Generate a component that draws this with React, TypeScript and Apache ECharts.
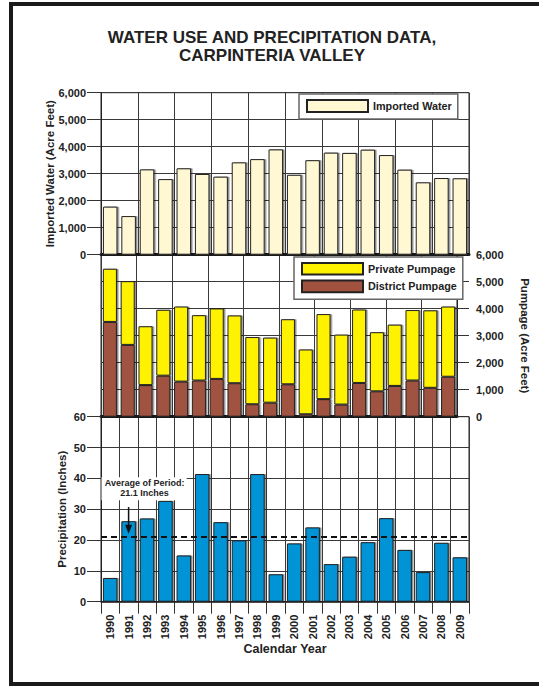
import React, { useEffect, useRef } from 'react';
import * as echarts from 'echarts';

const years = ['1990', '1991', '1992', '1993', '1994', '1995', '1996', '1997', '1998', '1999', '2000', '2001', '2002', '2003', '2004', '2005', '2006', '2007', '2008', '2009'];
const importedWater = [1780, 1430, 3160, 2800, 3200, 2990, 2890, 3420, 3540, 3900, 2960, 3500, 3780, 3770, 3890, 3690, 3150, 2680, 2840, 2830];
const districtPumpage = [3510, 2660, 1170, 1520, 1300, 1340, 1400, 1240, 460, 520, 1200, 90, 650, 450, 1250, 940, 1140, 1340, 1070, 1480];
const privatePumpage = [1970, 2360, 2180, 2440, 2780, 2420, 2610, 2510, 2490, 2410, 2410, 2400, 3150, 2590, 2720, 2190, 2270, 2610, 2870, 2600];
const precipitation = [7.7, 26.1, 27.0, 32.7, 15.0, 41.4, 25.8, 19.9, 41.4, 8.9, 18.9, 24.1, 12.2, 14.6, 19.3, 27.1, 16.8, 9.6, 19.1, 14.4];
const averagePrecip = 21.1;
const averageLabel = ['Average of Period:', '21.1 Inches'];
const annotateYear = '1991';

const FONT = '"Liberation Sans", Arial, Helvetica, sans-serif';
const TXT = '#222';

const fmt = (v: number) => v.toLocaleString('en-US');

export default function App() {
  const ref = useRef<HTMLDivElement>(null);
  useEffect(() => {
    if (!ref.current) return;
    const chart = echarts.init(ref.current, null, { renderer: 'svg' });
    const labelStyle = { color: TXT, fontSize: 11, fontWeight: 'bold' as const, fontFamily: FONT };
    const nameStyle = { color: TXT, fontSize: 11.5, fontWeight: 'bold' as const, fontFamily: FONT };
    const gridLine = { show: true, lineStyle: { color: '#3a3a3a', width: 1 } };
    const barShadow = { shadowColor: 'rgba(0,0,0,0.45)', shadowOffsetX: 1.5, shadowOffsetY: 0, shadowBlur: 0 };
    const legendBase = {
      icon: 'rect',
      itemWidth: 61,
      backgroundColor: '#fff',
      borderColor: '#666',
      borderWidth: 1.5,
      textStyle: { color: TXT, fontSize: 10.8, fontWeight: 'bold' as const, fontFamily: FONT },
      selectedMode: false,
    };
    const catAxisBase = {
      type: 'category' as const,
      data: years,
      boundaryGap: true,
      splitLine: gridLine,
    };
    chart.setOption({
      animation: false,
      backgroundColor: '#fff',
      title: {
        text: 'WATER USE AND PRECIPITATION DATA,\nCARPINTERIA VALLEY',
        left: 272,
        top: 28,
        textAlign: 'center',
        padding: 0,
        textStyle: { color: TXT, fontSize: 17, fontWeight: 'bold', fontFamily: FONT, lineHeight: 18.5 },
      },
      legend: [
        {
          ...legendBase,
          data: ['Imported Water'],
          left: 299,
          top: 94,
          orient: 'horizontal',
          itemHeight: 12,
          padding: [5, 6, 6, 7],
        },
        {
          ...legendBase,
          data: ['Private Pumpage', 'District Pumpage'],
          left: 294,
          top: 257,
          orient: 'vertical',
          itemHeight: 11.6,
          itemGap: 4,
          padding: [5, 6, 6, 7],
        },
      ],
      grid: [
        { left: 101, top: 92.7, width: 368, height: 162, show: true, borderColor: '#222', borderWidth: 1 },
        { left: 101, top: 254.7, width: 368, height: 162, show: true, borderColor: '#222', borderWidth: 1 },
        { left: 101, top: 416.7, width: 368, height: 185, show: true, borderColor: '#222', borderWidth: 1 },
      ],
      xAxis: [
        {
          ...catAxisBase,
          gridIndex: 0,
          axisLabel: { show: false },
          axisTick: { show: false },
          axisLine: { show: true, lineStyle: { color: '#1a1a1a', width: 3 } },
        },
        {
          ...catAxisBase,
          gridIndex: 1,
          axisLabel: { show: false },
          axisTick: { show: false },
          axisLine: { show: true, lineStyle: { color: '#1a1a1a', width: 3 } },
        },
        {
          ...catAxisBase,
          gridIndex: 2,
          axisLine: { show: true, lineStyle: { color: '#1a1a1a', width: 1.5 } },
          axisTick: { show: true, length: 12, alignWithLabel: false, lineStyle: { color: '#333', width: 1 } },
          axisLabel: { ...labelStyle, rotate: 90, margin: 13, interval: 0 },
          name: 'Calendar Year',
          nameLocation: 'middle',
          nameGap: 41,
          nameMoveOverlap: false,
          nameTextStyle: { ...nameStyle, fontSize: 12.5 },
        },
      ],
      yAxis: [
        {
          type: 'value',
          gridIndex: 0,
          position: 'left',
          min: 0,
          max: 6000,
          interval: 1000,
          axisLine: { show: true, lineStyle: { color: '#222' } },
          axisTick: { show: true, length: 14, lineStyle: { color: '#333' } },
          axisLabel: { ...labelStyle, margin: 15, formatter: (v: number) => fmt(v) },
          splitLine: gridLine,
          name: 'Imported Water (Acre Feet)',
          nameLocation: 'middle',
          nameGap: 45.5,
          nameMoveOverlap: false,
          nameRotate: 90,
          nameTextStyle: nameStyle,
        },
        {
          type: 'value',
          gridIndex: 1,
          position: 'right',
          min: 0,
          max: 6000,
          interval: 1000,
          axisLine: { show: true, lineStyle: { color: '#222' } },
          axisTick: { show: true, length: 12, lineStyle: { color: '#333' } },
          axisLabel: { ...labelStyle, margin: 19, formatter: (v: number) => fmt(v) },
          splitLine: gridLine,
          name: 'Pumpage (Acre Feet)',
          nameLocation: 'middle',
          nameGap: 62,
          nameMoveOverlap: false,
          nameRotate: -90,
          nameTextStyle: nameStyle,
        },
        {
          type: 'value',
          gridIndex: 2,
          position: 'left',
          min: 0,
          max: 60,
          interval: 10,
          axisLine: { show: true, lineStyle: { color: '#222' } },
          axisTick: { show: true, length: 14, lineStyle: { color: '#333' } },
          axisLabel: { ...labelStyle, margin: 15 },
          splitLine: gridLine,
          name: 'Precipitation (Inches)',
          nameLocation: 'middle',
          nameGap: 33,
          nameMoveOverlap: false,
          nameRotate: 90,
          nameTextStyle: nameStyle,
        },
      ],
      series: [
        {
          name: 'Imported Water',
          type: 'bar',
          xAxisIndex: 0,
          yAxisIndex: 0,
          data: importedWater,
          barWidth: '79%',
          itemStyle: { color: '#FFF8D2', borderColor: '#222', borderWidth: 1, ...barShadow },
        },
        {
          name: 'District Pumpage',
          type: 'bar',
          stack: 'pump',
          xAxisIndex: 1,
          yAxisIndex: 1,
          data: districtPumpage,
          barWidth: '79%',
          itemStyle: { color: '#A0523F', borderColor: '#222', borderWidth: 1, ...barShadow },
        },
        {
          name: 'Private Pumpage',
          type: 'bar',
          stack: 'pump',
          xAxisIndex: 1,
          yAxisIndex: 1,
          data: privatePumpage,
          barWidth: '79%',
          itemStyle: { color: '#FFF200', borderColor: '#222', borderWidth: 1, ...barShadow },
        },
        {
          name: 'Precipitation',
          type: 'bar',
          xAxisIndex: 2,
          yAxisIndex: 2,
          data: precipitation,
          barWidth: '79%',
          itemStyle: { color: '#0093D6', borderColor: '#222', borderWidth: 1, ...barShadow },
          markLine: {
            silent: true,
            symbol: ['none', 'none'],
            label: { show: false },
            lineStyle: { color: '#111', width: 2, type: [6, 4] },
            data: [{ yAxis: averagePrecip }],
          },
        },
      ],
    });

    const pt = chart.convertToPixel({ xAxisIndex: 2, yAxisIndex: 2 }, [annotateYear, averagePrecip]) as number[];
    const ax = pt[0];
    const ay = pt[1];
    chart.setOption({
      graphic: [
        {
          type: 'rect',
          z: 100,
          shape: { x: 101.5, y: ay - 59.5, width: ax - 101.5 + 58, height: 23 },
          style: { fill: '#fff' },
        },
        {
          type: 'text',
          z: 101,
          x: ax + 16,
          y: ay - 53.5,
          style: { text: averageLabel[0], fill: TXT, font: `bold 9px ${FONT}`, align: 'center', verticalAlign: 'middle' },
        },
        {
          type: 'text',
          z: 101,
          x: ax + 16,
          y: ay - 43.5,
          style: { text: averageLabel[1], fill: TXT, font: `bold 9px ${FONT}`, align: 'center', verticalAlign: 'middle' },
        },
        {
          type: 'line',
          z: 101,
          shape: { x1: ax, y1: ay - 29.6, x2: ax, y2: ay - 10 },
          style: { stroke: '#111', lineWidth: 1.5 },
        },
        {
          type: 'polygon',
          z: 101,
          shape: { points: [[ax - 3.6, ay - 11.8], [ax + 3.6, ay - 11.8], [ax, ay - 3]] },
          style: { fill: '#111' },
        },
        {
          type: 'rect',
          z: 102,
          shape: { x: 11, y: 4, width: 545, height: 680 },
          style: { fill: 'none', stroke: '#1a1a1a', lineWidth: 4 },
        },
      ],
    });

    return () => chart.dispose();
  }, []);
  return <div ref={ref} style={{ position: 'absolute', left: 0, top: 0, width: 539, height: 686 }} />;
}
